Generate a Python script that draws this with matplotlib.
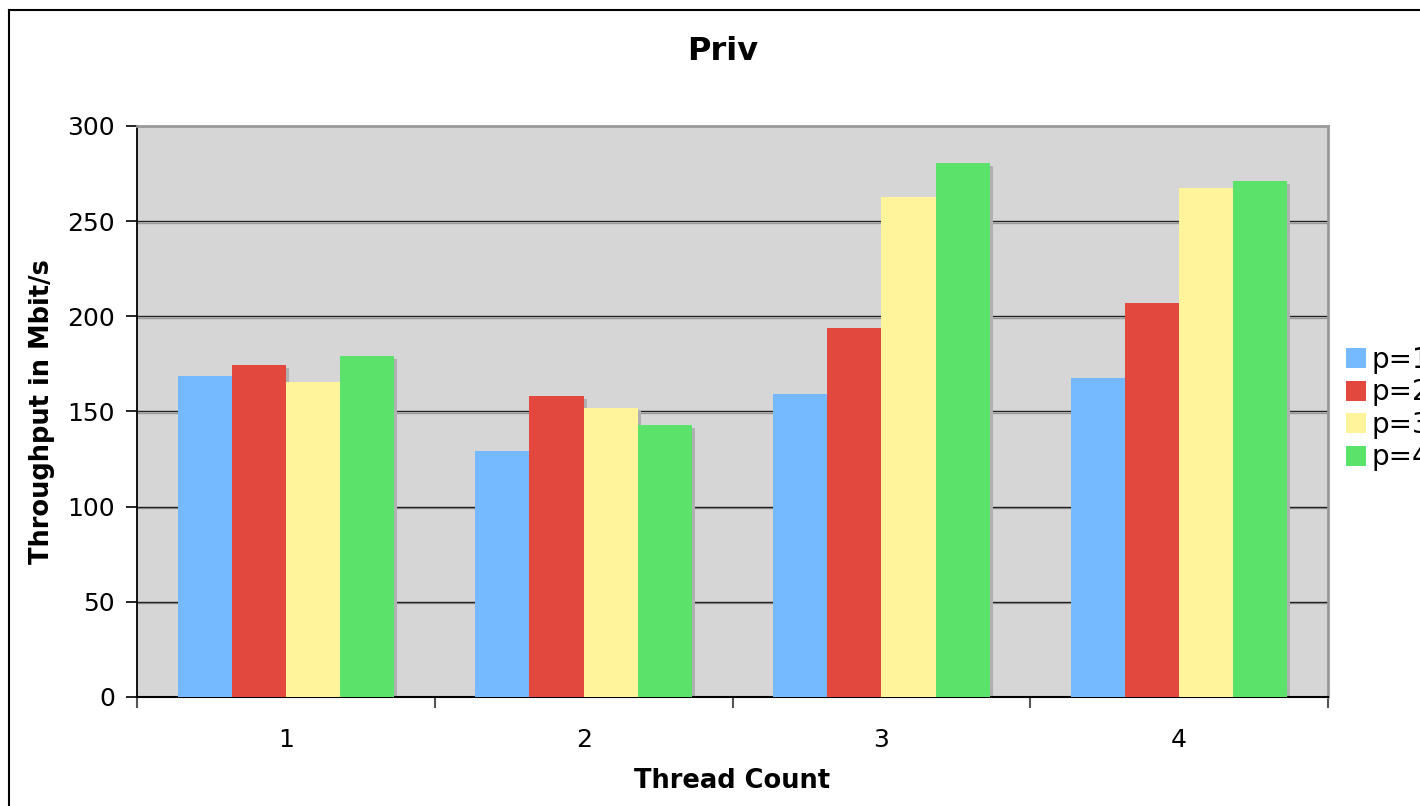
import numpy as np
import matplotlib.pyplot as plt
import matplotlib.transforms as mtransforms
from matplotlib.lines import Line2D
from matplotlib.patches import Patch

# Throughput per thread count, one series per p value
threads = ['1', '2', '3', '4']
series = ['p=1', 'p=2', 'p=3', 'p=4']
p1 = [168.7, 129.2, 159.2, 167.6]
p2 = [174.4, 158.1, 193.9, 207.0]
p3 = [165.5, 151.8, 262.7, 267.4]
p4 = [179.2, 142.9, 280.6, 271.1]
colors = ['#75B9FF', '#E3483F', '#FFF39B', '#5BE26B']

plt.rcParams['font.family'] = 'DejaVu Sans'

fig = plt.figure(figsize=(14.2, 8.06), dpi=100)
ax = fig.add_axes([137 / 1420, 109 / 806, 1191 / 1420, 571 / 806])
ax.set_facecolor('#D6D6D6')

x = np.arange(len(threads))
width = 1 / 5.5
values = [p1, p2, p3, p4]

# bar drop shadow, shifted a few pixels right and down
shadow = mtransforms.offset_copy(ax.transData, fig=fig, x=3, y=-3, units='dots')
for i, vals in enumerate(values):
    pos = x + (i - 1.5) * width
    ax.bar(pos, vals, width, color='#B0B0B0', transform=shadow, zorder=2, linewidth=0)
for i, vals in enumerate(values):
    pos = x + (i - 1.5) * width
    ax.bar(pos, vals, width, color=colors[i], zorder=3, linewidth=0, label=series[i])

# gridlines with a soft grey line beneath
grid_shadow = mtransforms.offset_copy(ax.transData, fig=fig, x=0, y=-1.5, units='dots')
for yv in [50, 100, 150, 200, 250]:
    ax.plot([-0.5, 3.5], [yv, yv], color='#9A9A9A', lw=1.0, transform=grid_shadow, zorder=1)
    ax.axhline(yv, color='#222222', lw=1.0, zorder=1)

ax.set_xlim(-0.5, 3.5)
ax.set_ylim(0, 300)
ax.set_yticks(np.arange(0, 301, 50))
ax.set_xticks(np.arange(-0.5, 3.6, 1))
ax.set_xticklabels([])
ax.set_xticks(x, minor=True)
ax.set_xticklabels(threads, minor=True)
ax.tick_params(axis='y', labelsize=18, length=8, width=1.2, pad=8, color='black')
ax.tick_params(axis='x', which='major', length=8, width=1.5, color='#555555')
ax.tick_params(axis='x', which='minor', length=0, labelsize=18, pad=22)

ax.spines['left'].set_color('black')
ax.spines['bottom'].set_color('black')
ax.spines['left'].set_linewidth(1.3)
ax.spines['bottom'].set_linewidth(1.5)
for s in ['top', 'right']:
    ax.spines[s].set_color('#999999')
    ax.spines[s].set_linewidth(2)

fig.text(723 / 1420, 1 - 52 / 806, 'Priv', fontsize=23, fontweight='bold',
         ha='center', va='center')
ax.set_xlabel('Thread Count', fontsize=18.5, fontweight='bold', labelpad=12)
ax.set_ylabel('Throughput in Mbit/s', fontsize=18.5, fontweight='bold', labelpad=9)

# legend runs past the right edge of the chart area
handles = [Patch(facecolor=c, edgecolor='none') for c in colors]
fig.legend(handles, series, loc='upper left', bbox_to_anchor=(1346 / 1420, 1 - 346 / 806),
           frameon=False, fontsize=20, handlelength=0.72, handleheight=0.72,
           handletextpad=0.2, labelspacing=0.16, borderpad=0, borderaxespad=0)

# outer chart border
fig.add_artist(Line2D([8.5 / 1420, 8.5 / 1420], [0, 1 - 9.5 / 806], color='black', lw=1.5,
                      transform=fig.transFigure))
fig.add_artist(Line2D([8.5 / 1420, 1], [1 - 9.5 / 806, 1 - 9.5 / 806], color='black', lw=1.5,
                      transform=fig.transFigure))

fig.savefig('out.png', dpi=100, facecolor='white')
